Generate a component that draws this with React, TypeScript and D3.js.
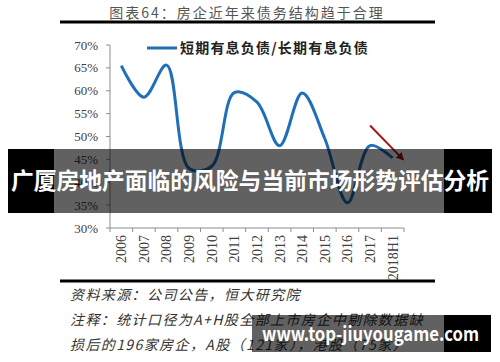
import React from 'react'
import { scaleBand, scaleLinear, line, curveCatmullRom } from 'd3'

const years = ['2006', '2007', '2008', '2009', '2010', '2011', '2012', '2013', '2014', '2015', '2016', '2017', '2018H1']
const ratio = [65.5, 58.6, 65.6, 43.0, 43.5, 59.6, 57.5, 48.0, 59.5, 49.5, 35.5, 48.0, 45.3]
const yTicks = [30, 35, 40, 45, 50, 55, 60, 65, 70]
const seriesName = '短期有息负债/长期有息负债'
const title = '图表64：房企近年来债务结构趋于合理'
const notes = [
  '资料来源：公司公告，恒大研究院',
  '注释：统计口径为A+H股全部上市房企中剔除数据缺',
  '损后的196家房企，A股（121家），港股（75家）',
]
const banner = '广厦房地产面临的风险与当前市场形势评估分析'
const site = 'www.top-jiuyougame.com'

const W = 500
const H = 362
const serif = '"Liberation Serif", "DejaVu Serif", serif'
const cjk = '"Noto Sans CJK SC", sans-serif'

const App = () => {
  const x = scaleBand<string>().domain(years).range([110, 404]).padding(0)
  const y = scaleLinear().domain([30, 70]).range([228, 45])
  const cx = (d: string) => (x(d) ?? 0) + x.bandwidth() / 2

  const path = line<number>()
    .x((_, i) => cx(years[i]))
    .y(d => y(d))
    .curve(curveCatmullRom.alpha(0.5))(ratio)

  // red trend arrow, in data units
  const arrowFrom = { x: cx('2017'), v: 52.4 }
  const arrowTo = { x: (x('2018H1') ?? 0) + x.bandwidth() - 1, v: 45.0 }

  return (
    <svg width={W} height={H} style={{ position: 'absolute', left: 0, top: 0, background: '#fff' }}>
      <defs>
        <marker id="ah" viewBox="0 0 10 10" refX="8" refY="5" markerWidth="4" markerHeight="4" orient="auto">
          <path d="M0,0 L10,5 L0,10 z" fill="#a3161a" />
        </marker>
      </defs>

      <text x={247} y={18} textAnchor="middle" fontFamily={cjk} fontSize={14} letterSpacing={2} fill="#555">
        {title}
      </text>
      <line x1={60} x2={435} y1={22} y2={22} stroke="#000" strokeWidth={3} />

      {/* y axis */}
      <line x1={110} x2={110} y1={y(70)} y2={y(30)} stroke="#8c8c8c" />
      {yTicks.map(t => (
        <g key={t}>
          <line x1={106} x2={110} y1={y(t)} y2={y(t)} stroke="#8c8c8c" />
          <text x={98} y={y(t)} dy="0.35em" textAnchor="end" fontFamily={serif} fontSize={13} fill="#404040">
            {t}%
          </text>
        </g>
      ))}

      {/* x axis */}
      <line x1={110} x2={404} y1={y(30)} y2={y(30)} stroke="#8c8c8c" />
      {years.map(d => (
        <line key={'t' + d} x1={x(d)} x2={x(d)} y1={y(30)} y2={y(30) + 4} stroke="#8c8c8c" />
      ))}
      <line x1={404} x2={404} y1={y(30)} y2={y(30) + 4} stroke="#8c8c8c" />
      {years.map(d => (
        <text
          key={'l' + d}
          transform={`translate(${cx(d)},${y(30) + 7}) rotate(-90)`}
          textAnchor="end"
          dy="0.35em"
          fontFamily={serif}
          fontSize={14}
          fill="#404040"
        >
          {d}
        </text>
      ))}

      {/* legend */}
      <line x1={147} x2={177} y1={48} y2={48} stroke="#1f70b8" strokeWidth={3} />
      <text x={180} y={48} dy="0.35em" fontFamily={cjk} fontWeight="bold" fontSize={14} letterSpacing={1.2} fill="#222">
        {seriesName}
      </text>

      <path d={path ?? ''} fill="none" stroke="#1f70b8" strokeWidth={3} strokeLinejoin="round" />

      <line
        x1={arrowFrom.x}
        y1={y(arrowFrom.v)}
        x2={arrowTo.x}
        y2={y(arrowTo.v)}
        stroke="#a3161a"
        strokeWidth={2}
        markerEnd="url(#ah)"
      />

      <line x1={60} x2={435} y1={281} y2={281} stroke="#000" strokeWidth={3} />

      {notes.map((n, i) => (
        <text key={i} x={70} y={295 + i * 25} dy="0.35em" fontFamily={cjk} fontStyle="italic" fontSize={14} letterSpacing={1.4} fill="#333">
          {n}
        </text>
      ))}

      {/* overlay banner */}
      <rect x={8} y={149} width={46} height={64} fill="#000" />
      <rect x={444} y={149} width={48} height={64} fill="#000" />
      <rect x={54} y={149} width={390} height={64} fill="#000" opacity={0.62} />
      <text x={250} y={181} dy="0.35em" textAnchor="middle" fontFamily={cjk} fontWeight="bold" fontSize={23} fill="#fff" textLength={478} lengthAdjust="spacingAndGlyphs">
        {banner}
      </text>

      {/* site watermark */}
      <rect x={444} y={315} width={47} height={37} fill="#000" />
      <rect x={252} y={315} width={192} height={37} fill="#000" opacity={0.62} />
      <text x={262} y={334} dy="0.35em" fontFamily={cjk} fontWeight="bold" fontSize={19} fill="#fff" textLength={217} lengthAdjust="spacingAndGlyphs">
        {site}
      </text>
    </svg>
  )
}

export default App
